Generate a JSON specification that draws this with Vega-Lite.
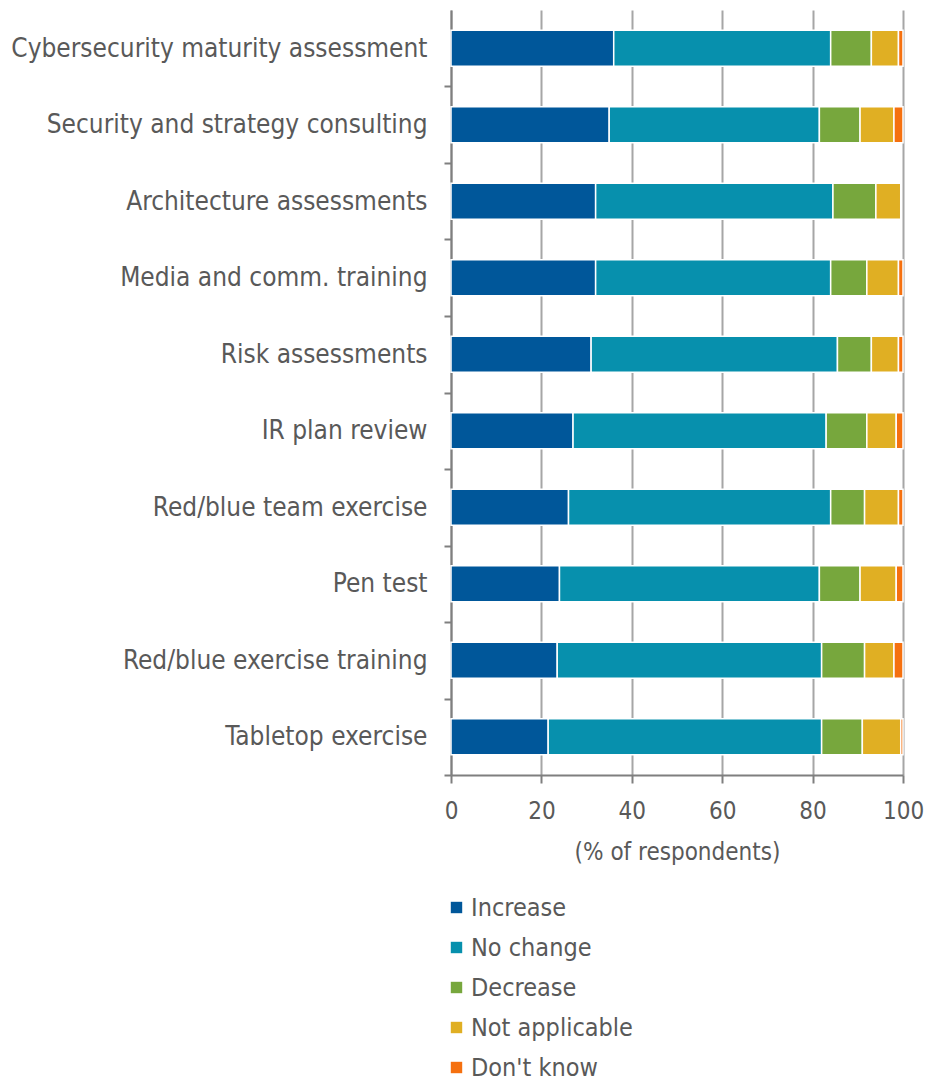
{
  "$schema": "https://vega.github.io/schema/vega-lite/v6.json",
  "autosize": {"type": "none"},
  "padding": {"left": 451, "top": 10, "right": 24, "bottom": 307},
  "width": 452,
  "height": 765,
  "background": "white",
  "data": {
    "values": [
      {"item": "Cybersecurity maturity assessment", "response": "Increase", "pct": 36},
      {"item": "Cybersecurity maturity assessment", "response": "No change", "pct": 48},
      {"item": "Cybersecurity maturity assessment", "response": "Decrease", "pct": 9},
      {"item": "Cybersecurity maturity assessment", "response": "Not applicable", "pct": 6},
      {"item": "Cybersecurity maturity assessment", "response": "Don't know", "pct": 1},
      {"item": "Security and strategy consulting", "response": "Increase", "pct": 35},
      {"item": "Security and strategy consulting", "response": "No change", "pct": 46.5},
      {"item": "Security and strategy consulting", "response": "Decrease", "pct": 9},
      {"item": "Security and strategy consulting", "response": "Not applicable", "pct": 7.5},
      {"item": "Security and strategy consulting", "response": "Don't know", "pct": 2},
      {"item": "Architecture assessments", "response": "Increase", "pct": 32},
      {"item": "Architecture assessments", "response": "No change", "pct": 52.5},
      {"item": "Architecture assessments", "response": "Decrease", "pct": 9.5},
      {"item": "Architecture assessments", "response": "Not applicable", "pct": 5.5},
      {"item": "Architecture assessments", "response": "Don't know", "pct": 0},
      {"item": "Media and comm. training", "response": "Increase", "pct": 32},
      {"item": "Media and comm. training", "response": "No change", "pct": 52},
      {"item": "Media and comm. training", "response": "Decrease", "pct": 8},
      {"item": "Media and comm. training", "response": "Not applicable", "pct": 7},
      {"item": "Media and comm. training", "response": "Don't know", "pct": 1},
      {"item": "Risk assessments", "response": "Increase", "pct": 31},
      {"item": "Risk assessments", "response": "No change", "pct": 54.5},
      {"item": "Risk assessments", "response": "Decrease", "pct": 7.5},
      {"item": "Risk assessments", "response": "Not applicable", "pct": 6},
      {"item": "Risk assessments", "response": "Don't know", "pct": 1},
      {"item": "IR plan review", "response": "Increase", "pct": 27},
      {"item": "IR plan review", "response": "No change", "pct": 56},
      {"item": "IR plan review", "response": "Decrease", "pct": 9},
      {"item": "IR plan review", "response": "Not applicable", "pct": 6.5},
      {"item": "IR plan review", "response": "Don't know", "pct": 1.5},
      {"item": "Red/blue team exercise", "response": "Increase", "pct": 26},
      {"item": "Red/blue team exercise", "response": "No change", "pct": 58},
      {"item": "Red/blue team exercise", "response": "Decrease", "pct": 7.5},
      {"item": "Red/blue team exercise", "response": "Not applicable", "pct": 7.5},
      {"item": "Red/blue team exercise", "response": "Don't know", "pct": 1},
      {"item": "Pen test", "response": "Increase", "pct": 24},
      {"item": "Pen test", "response": "No change", "pct": 57.5},
      {"item": "Pen test", "response": "Decrease", "pct": 9},
      {"item": "Pen test", "response": "Not applicable", "pct": 8},
      {"item": "Pen test", "response": "Don't know", "pct": 1.5},
      {"item": "Red/blue exercise training", "response": "Increase", "pct": 23.5},
      {"item": "Red/blue exercise training", "response": "No change", "pct": 58.5},
      {"item": "Red/blue exercise training", "response": "Decrease", "pct": 9.5},
      {"item": "Red/blue exercise training", "response": "Not applicable", "pct": 6.5},
      {"item": "Red/blue exercise training", "response": "Don't know", "pct": 2},
      {"item": "Tabletop exercise", "response": "Increase", "pct": 21.5},
      {"item": "Tabletop exercise", "response": "No change", "pct": 60.5},
      {"item": "Tabletop exercise", "response": "Decrease", "pct": 9},
      {"item": "Tabletop exercise", "response": "Not applicable", "pct": 8.5},
      {"item": "Tabletop exercise", "response": "Don't know", "pct": 0.5}
    ]
  },
  "transform": [
    {"calculate": "indexof(['Increase','No change','Decrease','Not applicable','Don\\'t know'], datum.response)", "as": "stackOrder"}
  ],
  "mark": {"type": "bar", "stroke": "white", "strokeWidth": 1.5},
  "encoding": {
    "y": {
      "field": "item",
      "type": "nominal",
      "sort": null,
      "scale": {"paddingInner": 0.53, "paddingOuter": 0.265},
      "axis": {
        "title": null,
        "tickOffset": 38.25,
        "labelOffset": -38.25,
        "tickSize": 7,
        "tickColor": "#7f7f7f",
        "tickWidth": 2,
        "domainColor": "#7f7f7f",
        "domainWidth": 2,
        "labelPadding": 17,
        "labelFont": "DejaVu Sans Condensed, Liberation Sans",
        "labelFontSize": 26,
        "labelColor": "#595959",
        "labelLimit": 500,
        "grid": false
      }
    },
    "x": {
      "field": "pct",
      "type": "quantitative",
      "stack": "zero",
      "scale": {"domain": [0, 100], "nice": false},
      "axis": {
        "values": [0, 20, 40, 60, 80, 100],
        "title": "(% of respondents)",
        "titleFont": "DejaVu Sans Condensed, Liberation Sans",
        "titleFontSize": 24,
        "titleFontWeight": "normal",
        "titleColor": "#595959",
        "titlePadding": 17,
        "labelFont": "DejaVu Sans Condensed, Liberation Sans",
        "labelFontSize": 24,
        "labelColor": "#595959",
        "labelPadding": 16,
        "labelFlush": false,
        "tickSize": 8,
        "tickColor": "#7f7f7f",
        "tickWidth": 2,
        "domainColor": "#7f7f7f",
        "domainWidth": 2,
        "grid": true,
        "gridColor": "#a6a6a6",
        "gridWidth": 2
      }
    },
    "color": {
      "field": "response",
      "type": "nominal",
      "scale": {
        "domain": ["Increase", "No change", "Decrease", "Not applicable", "Don't know"],
        "range": ["#00579A", "#0790AD", "#77A73D", "#E0AF23", "#F5700F"]
      },
      "legend": {
        "title": null,
        "orient": "none",
        "legendX": -7,
        "legendY": 885,
        "direction": "vertical",
        "symbolType": "square",
        "symbolSize": 130,
        "symbolStrokeWidth": 0,
        "labelFont": "DejaVu Sans Condensed, Liberation Sans",
        "labelFontSize": 25,
        "labelColor": "#595959",
        "labelOffset": 2,
        "rowPadding": 14,
        "labelLimit": 400
      }
    },
    "order": {"field": "stackOrder", "type": "quantitative"}
  },
  "config": {
    "view": {"stroke": null}
  }
}
